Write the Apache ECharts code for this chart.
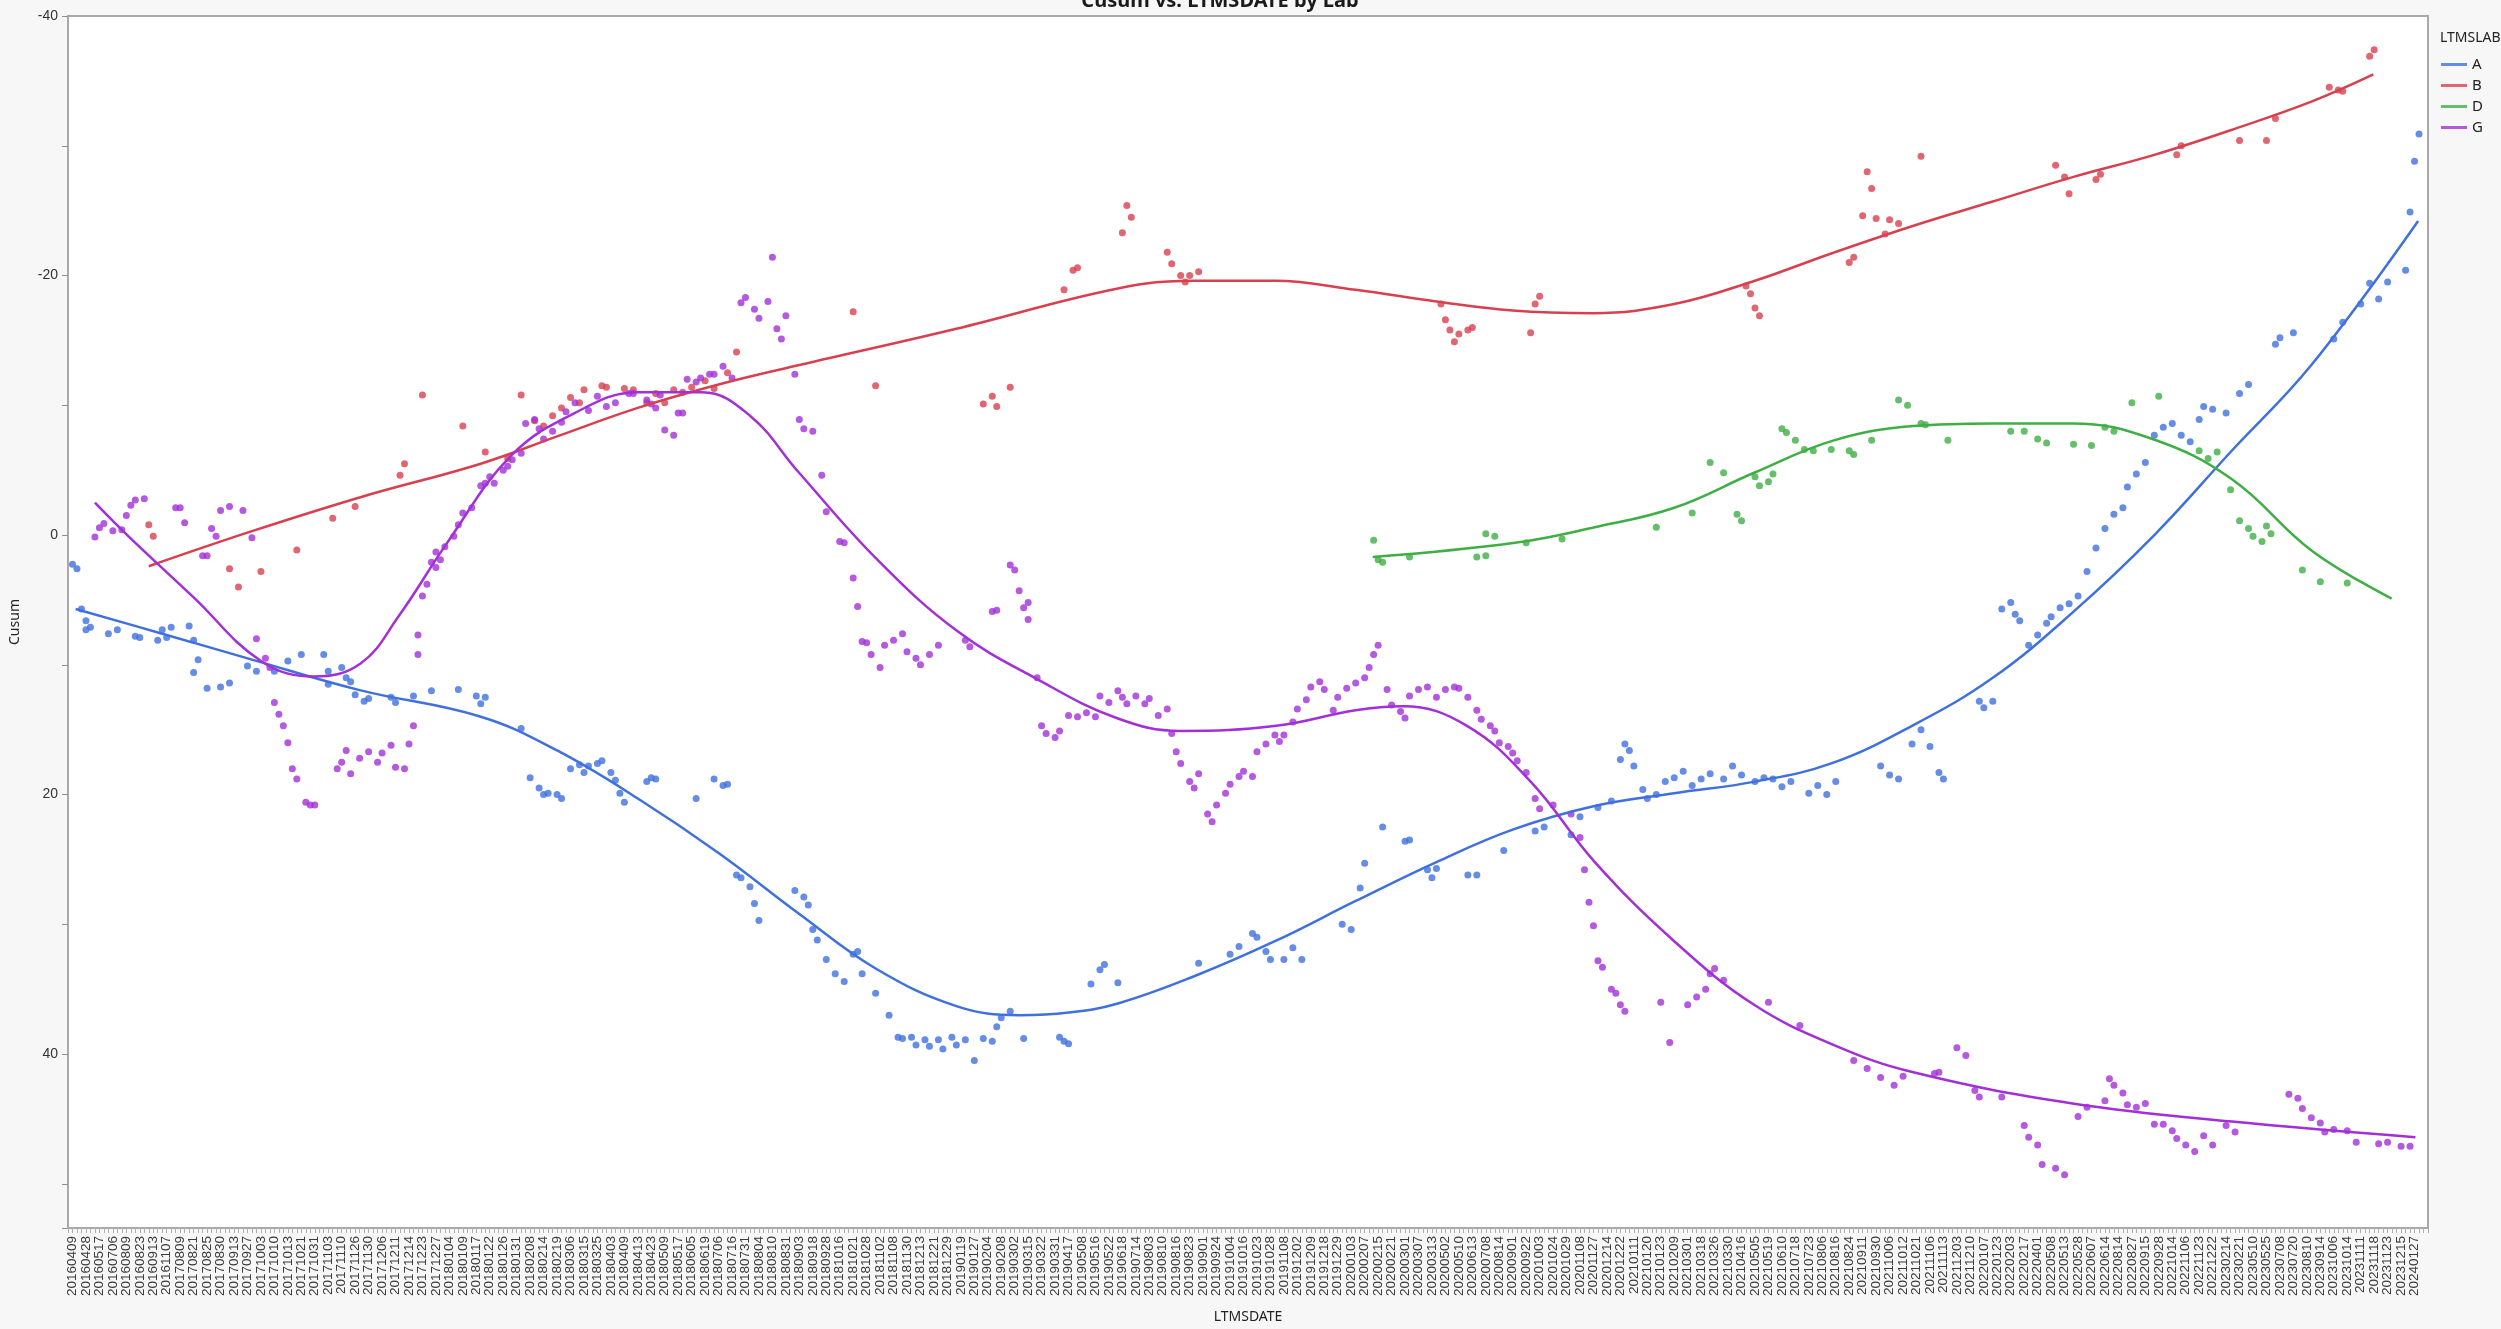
<!DOCTYPE html>
<html>
<head>
<meta charset="utf-8">
<script src="https://cdn.jsdelivr.net/npm/echarts/dist/echarts.min.js"></script>
<style>
  html, body { margin: 0; padding: 0; background: #f7f7f7; }
  #chart { width: 2501px; height: 1329px; }
</style>
</head>
<body>
<div id="chart"></div>
<script>
// Date labels printed under the axis; one label every LABEL_STEP observation slots.
const dateLabels = [
  '20160409','20160428','20160517','20160706','20160809','20160823','20160913','20161107',
  '20170809','20170821','20170825','20170830','20170913','20170927','20171003','20171010',
  '20171013','20171021','20171031','20171103','20171110','20171126','20171130','20171206',
  '20171211','20171214','20171223','20171227','20180104','20180109','20180117','20180122',
  '20180126','20180131','20180208','20180214','20180219','20180306','20180315','20180325',
  '20180403','20180409','20180413','20180423','20180509','20180517','20180605','20180619',
  '20180706','20180716','20180731','20180804','20180810','20180831','20180903','20180918',
  '20180928','20181016','20181021','20181028','20181102','20181108','20181130','20181213',
  '20181221','20181229','20190119','20190127','20190204','20190208','20190302','20190315',
  '20190322','20190331','20190417','20190508','20190516','20190522','20190618','20190714',
  '20190803','20190810','20190816','20190823','20190901','20190924','20191004','20191016',
  '20191023','20191028','20191108','20191202','20191209','20191218','20191229','20200103',
  '20200207','20200215','20200221','20200301','20200307','20200313','20200502','20200510',
  '20200613','20200708','20200814','20200901','20200922','20201003','20201024','20201029',
  '20201108','20201127','20201214','20201222','20210111','20210120','20210123','20210209',
  '20210301','20210318','20210326','20210330','20210416','20210505','20210519','20210610',
  '20210718','20210723','20210806','20210816','20210824','20210911','20210930','20211006',
  '20211012','20211021','20211106','20211113','20211203','20211210','20220107','20220123',
  '20220203','20220217','20220401','20220508','20220513','20220528','20220607','20220614',
  '20220814','20220827','20220915','20220928','20221014','20221106','20221123','20221222',
  '20230214','20230221','20230510','20230525','20230708','20230720','20230810','20230914',
  '20231006','20231014','20231111','20231118','20231123','20231215','20240127'
];
const LABEL_STEP = 3;
const SLOT_MIN = -1;
const SLOT_MAX = 525;

const labs = ['A', 'B', 'D', 'G'];
const labColors = ['#3f70df', '#d8404f', '#3fae45', '#a22fd8'];

// Cusum observations per lab: [observation slot, cusum]
const cusumA = [
  [0,2.25],[1,2.6],[2,5.7],[3,6.6],[3,7.3],[4,7.1],[8,7.6],[10,7.3],[14,7.8],[15,7.9],
  [19,8.1],[20,7.3],[21,7.9],[22,7.1],[26,7.0],[27,8.1],[27,10.6],[28,9.6],[30,11.8],
  [33,11.7],[35,11.4],[39,10.1],[41,10.5],[45,10.5],[48,9.7],[51,9.2],[56,9.2],[57,10.5],
  [57,11.5],[60,10.2],[61,11.0],[62,11.3],[63,12.3],
  [65,12.8],[66,12.6],[71,12.5],[72,12.9],[76,12.4],[80,12.0],[86,11.9],[90,12.4],[91,13.0],
  [92,12.5],[100,14.9],[102,18.7],[104,19.5],[105,20.0],[106,19.9],[108,20.0],[109,20.3],
  [111,18.0],[113,17.7],[114,18.3],[115,17.8],[117,17.6],[118,17.4],[120,18.3],[121,18.9],
  [122,19.9],[123,20.6],[128,19.0],[129,18.7],[130,18.8],[139,20.3],[143,18.8],[145,19.3],
  [146,19.2],[148,26.2],[149,26.4],[151,27.1],[152,28.4],[153,29.7],[161,27.4],[163,27.9],
  [164,28.5],[165,30.4],[166,31.2],[168,32.7],[170,33.8],[172,34.4],[174,32.3],[175,32.1],
  [176,33.8],[179,35.3],[182,37.0],[184,38.7],[185,38.8],[187,38.7],[188,39.3],[190,38.9],
  [191,39.4],[193,38.9],[194,39.6],[196,38.7],[197,39.3],[199,38.9],[201,40.5],[203,38.8],
  [205,39.0],[206,37.9],[207,37.2],[209,36.7],[212,38.8],[220,38.7],[221,39.0],[222,39.2],
  [227,34.6],[229,33.5],[230,33.1],[233,34.5],[251,33.0],[258,32.3],[260,31.7],[263,30.7],
  [264,31.0],[266,32.1],[267,32.7],[270,32.7],[272,31.8],[274,32.7],[283,30.0],[285,30.4],
  [287,27.2],[288,25.3],[292,22.5],[297,23.6],[298,23.5],[302,25.8],[303,26.4],[304,25.7],
  [311,26.2],[313,26.2],[319,24.3],[326,22.8],[328,22.5],[334,23.1],[336,21.7],[340,21.0],
  [343,20.5],[345,17.3],[346,16.1],[347,16.6],[348,17.8],[350,19.6],[351,20.3],[353,20.0],
  [355,19.0],[357,18.7],[359,18.2],[361,19.3],[363,18.8],[365,18.4],[368,18.8],[370,17.8],
  [372,18.5],[375,19.0],[377,18.7],[379,18.8],[381,19.4],[383,19.0],[387,19.9],[389,19.3],
  [391,20.0],[393,19.0],[403,17.8],[405,18.5],[407,18.8],[410,16.1],[412,15.0],[414,16.3],
  [416,18.3],[417,18.8],[425,12.8],[426,13.3],[428,12.8],[430,5.7],[432,5.2],[433,6.1],
  [434,6.6],[436,8.5],[438,7.7],[440,6.8],[441,6.3],[443,5.6],[445,5.3],[447,4.7],[449,2.8],
  [451,1.0],[453,-0.5],[455,-1.6],[457,-2.1],[458,-3.7],[460,-4.7],[462,-5.6],[464,-7.7],
  [466,-8.3],[468,-8.6],[470,-7.7],[472,-7.2],[474,-8.9],[475,-9.9],[477,-9.7],[480,-9.4],
  [483,-10.9],[485,-11.6],[491,-14.7],[492,-15.2],[495,-15.6],[504,-15.1],[506,-16.4],
  [510,-17.8],[512,-19.4],[514,-18.2],[516,-19.5],[520,-20.4],[521,-24.9],[522,-28.8],[523,-30.9]
];
const cusumB = [
  [17,-0.8],[18,0.1],[35,2.6],[37,4.0],[42,2.8],[50,1.15],[58,-1.3],[63,-2.2],
  [73,-4.6],[74,-5.5],[78,-10.8],[87,-8.4],[92,-6.4],[97,-5.9],[100,-10.8],[103,-8.8],
  [105,-8.4],[107,-9.2],[109,-9.8],[111,-10.6],[113,-10.2],[114,-11.2],[118,-11.5],[119,-11.4],
  [123,-11.3],[125,-11.2],[128,-10.2],[130,-10.9],[132,-10.2],[134,-11.2],[136,-11.0],
  [138,-11.4],[141,-11.9],[143,-11.3],[146,-12.5],[148,-14.1],[174,-17.2],[179,-11.5],
  [203,-10.1],[205,-10.7],[206,-9.9],[209,-11.4],[221,-18.9],[223,-20.4],[224,-20.6],
  [234,-23.3],[235,-25.4],[236,-24.5],[244,-21.8],[245,-20.9],[247,-20.0],[248,-19.5],
  [249,-20.0],[251,-20.3],[305,-17.8],[306,-16.6],[307,-15.8],[308,-14.9],[309,-15.5],
  [311,-15.8],[312,-16.0],[325,-15.6],[326,-17.8],[327,-18.4],[373,-19.2],[374,-18.6],
  [375,-17.5],[376,-16.9],[396,-21.0],[397,-21.4],[399,-24.6],[400,-28.0],[401,-26.7],
  [402,-24.4],[404,-23.2],[405,-24.3],[407,-24.0],[412,-29.2],[442,-28.5],[444,-27.6],
  [445,-26.3],[451,-27.4],[452,-27.8],[469,-29.3],[470,-30.0],[483,-30.4],[489,-30.4],
  [491,-32.1],[503,-34.5],[505,-34.3],[506,-34.2],[512,-36.9],[513,-37.4]
];
const cusumD = [
  [290,0.4],[291,1.9],[292,2.1],[298,1.7],[313,1.7],[315,1.6],[315,-0.1],[317,0.1],[324,0.6],
  [332,0.3],[353,-0.6],[361,-1.7],[365,-5.6],[368,-4.8],[371,-1.6],[372,-1.1],[375,-4.5],
  [376,-3.8],[378,-4.1],[379,-4.7],[381,-8.2],[382,-7.9],[384,-7.3],[386,-6.6],[388,-6.5],
  [392,-6.6],[396,-6.5],[397,-6.2],[401,-7.3],[407,-10.4],[409,-10.0],[412,-8.6],[413,-8.5],
  [418,-7.3],[432,-8.0],[435,-8.0],[438,-7.4],[440,-7.1],[446,-7.0],[450,-6.9],[453,-8.3],
  [455,-8.0],[459,-10.2],[465,-10.7],[474,-6.5],[476,-5.9],[478,-6.4],[481,-3.5],[483,-1.1],
  [485,-0.5],[486,0.1],[488,0.5],[489,-0.7],[490,-0.1],[497,2.7],[501,3.6],[507,3.7]
];
const cusumG = [
  [5,0.15],[6,-0.56],[7,-0.9],[9,-0.33],[11,-0.4],[12,-1.5],[13,-2.3],[14,-2.7],[16,-2.8],
  [23,-2.1],[24,-2.1],[25,-0.95],[29,1.6],[30,1.6],[31,-0.5],[32,0.1],[33,-1.9],[35,-2.2],
  [38,-1.9],[40,0.2],[41,8.0],
  [43,9.5],[44,10.2],[45,12.9],[46,13.8],[47,14.7],[48,16.0],[49,18.0],[50,18.8],[52,20.6],
  [53,20.8],[54,20.8],[59,18.0],[60,17.5],[61,16.6],[62,18.4],[64,17.2],[66,16.7],[68,17.5],
  [69,16.8],[71,16.2],[72,17.9],[74,18.0],[75,16.1],[76,14.7],[77,9.2],[77,7.7],[78,4.7],
  [79,3.8],[80,2.1],[81,1.3],[81,2.5],[82,1.9],[83,0.9],[85,0.1],[86,-0.8],[87,-1.7],[89,-2.1],
  [91,-3.8],[92,-4.0],[93,-4.5],[94,-4.0],[96,-5.0],[97,-5.3],[98,-5.8],[100,-6.3],[101,-8.6],
  [103,-8.9],[104,-8.2],[105,-7.4],[107,-8.0],[109,-8.7],[110,-9.5],[112,-10.2],[115,-9.6],
  [117,-10.7],[119,-9.9],[121,-10.2],[124,-10.9],[125,-10.9],[128,-10.4],[129,-10.1],
  [130,-9.8],[131,-10.8],[132,-8.1],[134,-7.7],[135,-9.4],[136,-9.4],[137,-12.0],[139,-11.8],
  [140,-12.1],[142,-12.4],[143,-12.4],[145,-13.0],[147,-12.1],[149,-17.9],[150,-18.3],
  [152,-17.4],[153,-16.7],[155,-18.0],[156,-21.4],[157,-15.9],[158,-15.1],[159,-16.9],
  [161,-12.4],[162,-8.9],[163,-8.2],[165,-8.0],[167,-4.6],[168,-1.8],[171,0.5],[172,0.6],
  [174,3.3],[175,5.5],[176,8.2],[177,8.3],[178,9.2],[180,10.2],[181,8.5],[183,8.1],[185,7.6],
  [186,9.0],[188,9.5],[189,10.0],[191,9.2],[193,8.5],[199,8.1],[200,8.6],[205,5.9],[206,5.8],
  [209,2.3],[210,2.7],[211,4.3],[212,5.6],[213,6.5],[213,5.2],[215,11.0],[216,14.7],
  [217,15.3],[219,15.6],[220,15.1],[222,13.9],[224,14.0],[226,13.7],[228,14.0],[229,12.4],
  [231,12.9],[233,12.0],[234,12.5],[235,13.0],[237,12.4],[239,13.0],[240,12.6],[242,13.9],
  [244,13.4],[245,15.3],[246,16.7],[247,17.6],[249,19.0],[250,19.5],[251,18.4],[253,21.5],
  [254,22.1],[255,20.8],[257,19.9],[258,19.2],[260,18.6],[261,18.2],[263,18.6],[264,16.7],
  [266,16.1],[268,15.4],[269,15.9],[270,15.4],[272,14.4],[273,13.4],[275,12.7],[276,11.7],
  [278,11.3],[279,11.9],[281,13.5],[282,12.5],[284,11.8],[286,11.4],[288,11.0],[289,10.2],
  [290,9.2],[291,8.5],[293,11.9],[294,13.1],[296,13.6],[297,14.1],[298,12.4],[300,11.9],
  [302,11.7],[304,12.5],[306,11.9],[308,11.7],[309,11.8],[311,12.5],[313,13.5],[314,14.2],
  [316,14.7],[317,15.1],[318,16.0],[320,16.3],[321,16.8],[322,17.4],[324,18.3],[326,20.3],
  [327,21.1],[330,20.8],[334,21.5],[336,23.3],[337,25.8],[338,28.3],[339,30.1],[340,32.8],
  [341,33.3],[343,35.0],[344,35.3],[345,36.2],[346,36.7],[354,36.0],[356,39.1],[360,36.2],
  [362,35.6],[364,35.0],[365,33.8],[366,33.4],[368,34.3],[378,36.0],[385,37.8],[397,40.5],
  [400,41.1],[403,41.8],[406,42.4],[408,41.7],[415,41.5],[416,41.4],[420,39.5],[422,40.1],
  [424,42.8],[425,43.3],[430,43.3],[435,45.5],[436,46.4],[438,47.0],[439,48.5],[442,48.8],
  [444,49.3],[447,44.8],[449,44.1],[453,43.6],[454,41.9],[455,42.4],[457,43.0],[458,43.9],
  [460,44.1],[462,43.8],[464,45.4],[466,45.4],[468,45.9],[469,46.5],[471,47.0],[473,47.5],
  [475,46.3],[477,47.0],[480,45.5],[482,46.0],[494,43.1],[496,43.4],[497,44.2],[499,44.9],
  [501,45.3],[502,46.0],[504,45.8],[507,45.9],[509,46.8],[514,46.9],[516,46.8],[519,47.1],
  [521,47.1]
];

// Smoothed fit curves per lab: [observation slot, fitted cusum]
const fitA = [
  [0.7,5.7],[20,7.6],[40,9.6],[64,11.95],[91,14.0],[108,16.6],[126,20.3],[144,24.5],
  [162,29.2],[179,33.4],[197,36.3],[211,37.0],[222,36.8],[233,36.1],[250,34.0],[268,31.3],
  [286,28.2],[304,25.2],[321,22.7],[339,20.9],[357,19.9],[375,19.0],[392,17.6],[410,14.7],
  [428,11.0],[446,5.9],[464,0],[481,-6.4],[499,-13.1],[522.8,-24.2]
];
const fitB = [
  [17,2.4],[40,-0.3],[64,-2.9],[91,-5.5],[108,-7.6],[126,-9.8],[144,-11.6],[162,-13.1],
  [197,-15.9],[233,-19.0],[250,-19.6],[268,-19.6],[286,-18.9],[304,-18.0],[321,-17.3],
  [339,-17.1],[357,-17.8],[375,-19.6],[392,-21.7],[410,-23.8],[428,-25.7],[446,-27.6],
  [464,-29.3],[481,-31.2],[499,-33.4],[512.8,-35.5]
];
const fitD = [
  [289.8,1.7],[321.5,0.6],[339.3,-0.6],[357,-2.1],[374.8,-4.8],[392.6,-7.3],[410.3,-8.4],
  [428,-8.6],[445.8,-8.6],[463.6,-7.4],[481.3,-4.3],[499.1,1.2],[516.9,4.9]
];
const fitG = [
  [5,-2.5],[12.2,0],[27,4.8],[42,9.7],[53.8,10.9],[64.2,9.9],[72.8,6.2],[83.5,0.6],
  [97.7,-6.1],[111.9,-9.4],[126,-11],[140.3,-11],[151,-9.2],[161.7,-4.9],[179.4,1.9],
  [197.2,7.4],[215,11.1],[232.7,14.1],[247,15.1],[268.3,14.7],[286,13.5],[296.6,13.2],
  [310.8,14.7],[325,19],[339.3,25.2],[357,31.3],[374.8,36.2],[392.6,39.3],[410.3,41.4],
  [445.8,43.8],[481.3,45.2],[522.2,46.4]
];

const cusumByLab = [cusumA, cusumB, cusumD, cusumG];
const fitByLab = [fitA, fitB, fitD, fitG];

const series = [];
labs.forEach((lab, i) => {
  series.push({
    name: lab, type: 'scatter', data: cusumByLab[i],
    symbolSize: 7, itemStyle: { color: labColors[i] }, z: 3
  });
  series.push({
    name: lab, type: 'line', data: fitByLab[i], smooth: 0.4,
    showSymbol: false, symbol: 'none',
    lineStyle: { color: labColors[i], width: 2.5 }, itemStyle: { color: labColors[i] }, z: 4
  });
});

const chart = echarts.init(document.getElementById('chart'));
chart.setOption({
  backgroundColor: '#f7f7f7',
  animation: false,
  title: [
    { text: 'Cusum vs. LTMSDATE by Lab', left: 1215, top: -14, textAlign: 'center',
      textStyle: { fontFamily: 'Noto Sans', fontSize: 20, fontWeight: 'bold', color: '#1a1a1a' } },
    { text: 'LTMSLAB', left: 2435, top: 26,
      textStyle: { fontFamily: 'Noto Sans', fontSize: 14, fontWeight: 'normal', color: '#222' } }
  ],
  legend: {
    orient: 'vertical', left: 2436, top: 52, itemWidth: 26, itemHeight: 3, itemGap: 6,
    icon: 'rect', data: labs,
    textStyle: { fontFamily: 'Noto Sans', fontSize: 15, color: '#222' }
  },
  grid: {
    left: 65, right: 73, top: 16, bottom: 101,
    show: true, backgroundColor: '#ffffff', borderColor: '#a9a9a9', borderWidth: 2
  },
  xAxis: {
    type: 'value', min: SLOT_MIN, max: SLOT_MAX, interval: 1,
    name: 'LTMSDATE', nameLocation: 'middle', nameGap: 82,
    nameTextStyle: { fontFamily: 'Noto Sans', fontSize: 14, color: '#222' },
    axisLine: { show: true, onZero: false, lineStyle: { color: '#a9a9a9', width: 2 } },
    axisTick: { show: true, length: 5, lineStyle: { color: '#b0b0b0' } },
    splitLine: { show: false },
    axisLabel: {
      rotate: 90, margin: 8, fontFamily: 'Liberation Sans', fontSize: 13.5, color: '#3a3a3a',
      formatter: v => {
        if (v < 0 || v % LABEL_STEP !== 0) return '';
        return dateLabels[v / LABEL_STEP] || '';
      }
    }
  },
  yAxis: {
    type: 'value', inverse: true, min: -40, max: 53.4, interval: 10,
    name: 'Cusum', nameLocation: 'middle', nameGap: 46, nameRotate: 90,
    nameTextStyle: { fontFamily: 'Noto Sans', fontSize: 14, color: '#222' },
    axisLine: { show: true, onZero: false, lineStyle: { color: '#a9a9a9', width: 2 } },
    axisTick: { show: true, length: 6, lineStyle: { color: '#909090' } },
    splitLine: { show: false },
    axisLabel: {
      margin: 10, fontFamily: 'Liberation Sans', fontSize: 14, color: '#333',
      formatter: v => (v % 20 === 0 ? String(v) : '')
    }
  },
  series: series
});
</script>
</body>
</html>
